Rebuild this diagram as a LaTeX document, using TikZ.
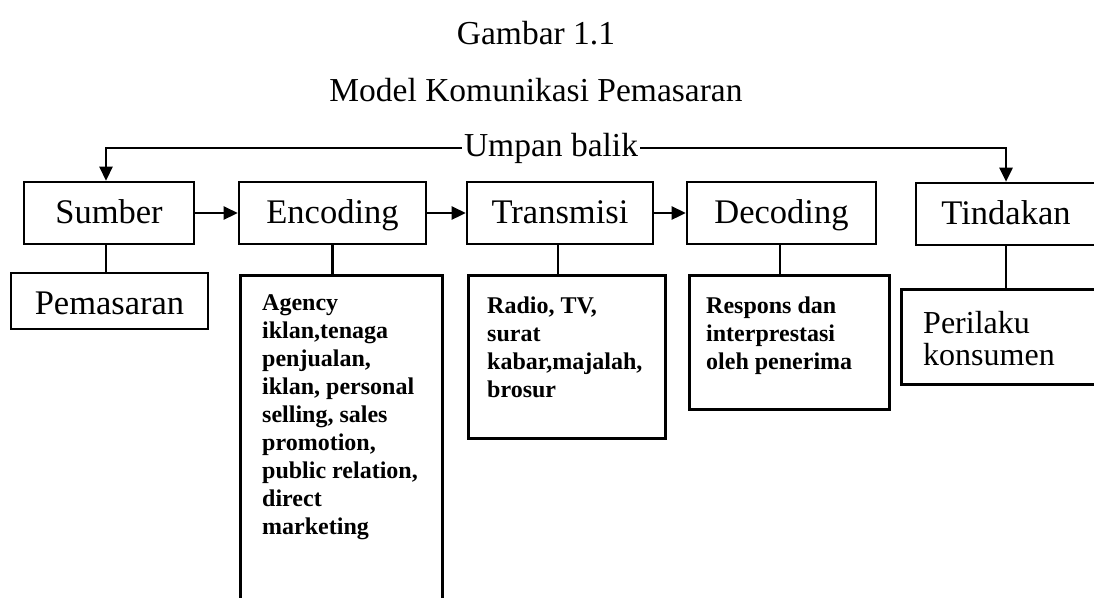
\documentclass[tikz,border=0pt]{standalone}
\usepackage{fontspec}
\setmainfont{Liberation Serif}
\usetikzlibrary{arrows.meta}
\begin{document}
\begin{tikzpicture}[x=1pt,y=-1pt,
  lw/.style={line width=2.6pt},
  bigfont/.style={font=\fontsize{34.5}{40}\selectfont},
  topbox/.style={draw, lw, bigfont, minimum height=62pt, inner sep=0pt, text height=25pt, text depth=5pt},
  subbox/.style={draw, lw, inner sep=0pt, anchor=north west},
  subtext/.style={font=\bfseries\fontsize{24}{28}\selectfont, align=left, inner sep=0pt, anchor=north west},
  arr/.style={lw, -{Triangle[length=14pt,width=13pt]}},
  conn/.style={lw}]
\useasboundingbox (0,0) rectangle (1094,597);

% titles
\node[font=\fontsize{33.5}{40}\selectfont, inner sep=0pt, anchor=base] (t1) at (536,44) {Gambar 1.1};
\node[font=\fontsize{33.5}{40}\selectfont, inner sep=0pt, anchor=base] (t2) at (536,101) {Model Komunikasi Pemasaran};

% top row
\node[topbox, minimum width=170pt] (sumber) at (109,213) {Sumber};
\node[topbox, minimum width=187pt] (enc) at (332.5,213) {Encoding};
\node[topbox, minimum width=186pt] (trans) at (560,213) {Transmisi};
\node[topbox, minimum width=189pt] (dec) at (781.5,213) {Decoding};
\node[topbox, minimum width=180pt] (tind) at (1006,214) {Tindakan};

\draw[arr] (sumber.east) -- (enc.west);
\draw[arr] (enc.east) -- (trans.west);
\draw[arr] (trans.east) -- (dec.west);

% feedback
\node[font=\fontsize{33.5}{40}\selectfont, inner sep=2pt, text height=23pt, text depth=7pt] (ub) at (551,148) {Umpan balik};
\draw[arr] (ub.west) -| ([xshift=-3pt]sumber.north);
\draw[arr] (ub.east) -| (tind.north);

% bottom row
\node[draw, lw, font=\fontsize{34.5}{40}\selectfont, minimum width=197pt, minimum height=56pt, inner sep=0pt, text height=29pt, text depth=3pt] (pem) at (109.5,301) {Pemasaran};

\node[subbox, minimum width=202pt, minimum height=340pt] (encS) at (239,274) {};
\node[subtext] (encT) at (262,294) {Agency\\iklan,tenaga\\penjualan,\\iklan, personal\\selling, sales\\promotion,\\public relation,\\direct\\marketing};

\node[subbox, minimum width=197pt, minimum height=163pt] (transS) at (467,274) {};
\node[subtext] (transT) at (487,297) {Radio, TV,\\surat\\kabar,majalah,\\brosur};

\node[subbox, minimum width=200pt, minimum height=134pt] (decS) at (688,274) {};
\node[subtext] (decT) at (706,297) {Respons dan\\interprestasi\\oleh penerima};

\node[subbox, minimum width=200pt, minimum height=95pt] (tindS) at (900,288) {};
\node[font=\fontsize{32}{32}\selectfont, align=left, inner sep=0pt, anchor=north west] (tindT) at (923,311) {Perilaku\\konsumen};

% connectors
\draw[conn] ([xshift=-3pt]sumber.south) -- ([xshift=-3pt]sumber.south |- pem.north);
\draw[conn] (enc.south) -- (enc.south |- encS.north);
\draw[conn] ([xshift=-2pt]trans.south) -- ([xshift=-2pt]trans.south |- transS.north);
\draw[conn] ([xshift=-1.5pt]dec.south) -- ([xshift=-1.5pt]dec.south |- decS.north);
\draw[conn] (tind.south) -- (tind.south |- tindS.north);
\end{tikzpicture}
\end{document}
